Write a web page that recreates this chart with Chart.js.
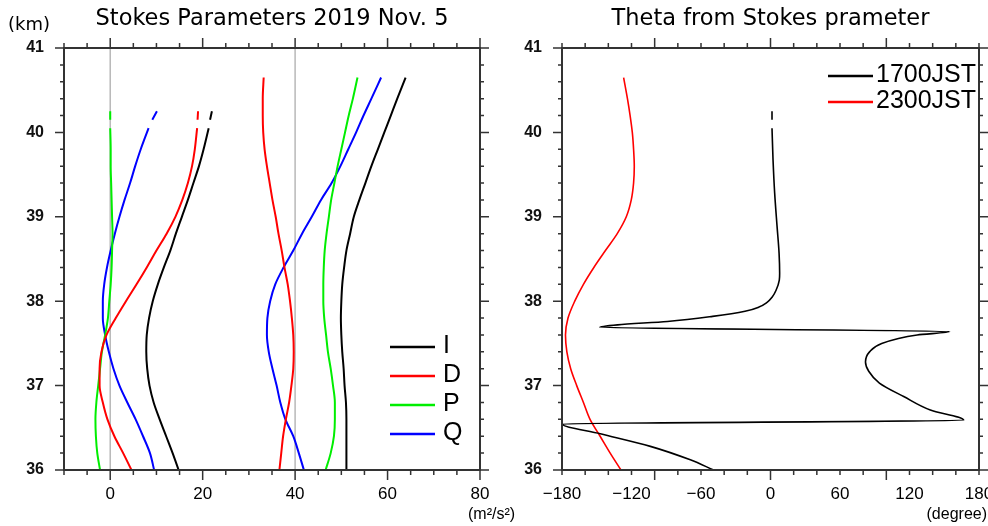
<!DOCTYPE html>
<html lang="en">
<head>
  <meta charset="UTF-8">
  <title>Stokes Parameters 2019 Nov. 5</title>
  <script src="https://cdn.jsdelivr.net/npm/chart.js"></script>
  <style>
    body {
      margin: 0;
      background: #fff;
    }

    .wrap {
      position: relative;
      width: 988px;
      height: 526px;
    }

    canvas {
      position: absolute;
      left: 0;
      top: 0;
    }
  </style>
</head>
<body>

  <div class="wrap">
    <canvas id="stokesChart" width="988" height="526"></canvas>
    <canvas id="thetaChart" width="988" height="526"></canvas>
  </div>

  <script>
    // altitude (km) of the 1700JST profiles, null = missing level
    const alt1700 = [40.25, 40.15, null, 40.05, 39.8, 39.6, 39.4, 39.2, 39.0, 38.8, 38.6, 38.4, 38.2, 38.0, 37.8, 37.6, 37.4, 37.2, 37.0, 36.8, 36.6, 36.4, 36.2, 36.0];
    const stokesI1700 = [22.0, 21.6, null, 21.3, 20.2, 19.2, 18.0, 16.8, 15.5, 14.2, 13.0, 11.6, 10.3, 9.2, 8.4, 7.9, 7.8, 8.0, 8.5, 9.4, 10.7, 12.1, 13.5, 14.8];
    const stokesD1700 = [19.0, 18.9, null, 18.8, 18.3, 17.7, 16.8, 15.6, 14.1, 12.2, 10.0, 7.9, 5.7, 3.4, 1.2, -0.8, -1.9, -2.3, -2.3, -1.6, -0.6, 0.9, 2.8, 4.6];
    const stokesP1700 = [0, 0, null, 0, 0.1, 0.1, 0.2, 0.3, 0.4, 0.5, 0.4, 0.3, 0.1, -0.2, -0.5, -1.1, -1.8, -2.2, -2.6, -3.0, -3.2, -3.1, -2.8, -2.2];
    const stokesQ1700 = [10.1, 9.1, null, 8.3, 6.6, 5.4, 4.3, 3.1, 2.0, 1.0, 0.1, -0.7, -1.3, -1.6, -1.6, -1.1, -0.3, 0.7, 2.0, 3.7, 5.5, 7.1, 8.6, 9.5];

    // altitude (km) of the 2300JST profiles
    const alt2300 = [40.65, 40.4, 40.2, 40.0, 39.8, 39.6, 39.4, 39.2, 39.0, 38.8, 38.6, 38.4, 38.2, 38.0, 37.8, 37.6, 37.4, 37.2, 37.0, 36.8, 36.6, 36.4, 36.2, 36.0];
    const stokesI2300 = [63.9, 62.1, 60.7, 59.3, 57.9, 56.5, 55.2, 53.9, 52.7, 51.9, 51.1, 50.6, 50.2, 50.0, 49.9, 50.0, 50.2, 50.5, 50.7, 51.0, 51.1, 51.1, 51.1, 51.1];
    const stokesD2300 = [33.2, 33.0, 33.0, 33.1, 33.4, 33.9, 34.5, 35.1, 35.8, 36.4, 37.1, 37.7, 38.4, 38.9, 39.3, 39.6, 39.7, 39.6, 39.2, 38.7, 38.0, 37.4, 37.0, 36.6];
    const stokesP2300 = [53.5, 52.5, 51.6, 50.8, 50.0, 49.2, 48.5, 47.8, 47.3, 46.8, 46.4, 46.2, 46.1, 46.1, 46.3, 46.7, 47.1, 47.7, 48.2, 48.6, 48.6, 48.4, 47.7, 46.6];
    const stokesQ2300 = [58.6, 56.5, 54.8, 53.2, 51.5, 49.8, 47.9, 45.6, 43.6, 41.5, 39.6, 37.5, 35.7, 34.6, 34.0, 33.9, 34.3, 35.1, 36.0, 36.8, 37.9, 39.6, 40.8, 41.9];

    // theta (degree)
    const altTheta1700 = [40.25, 40.15, null, 40.05, 39.67, 39.28, 38.88, 38.57, 38.33, 38.25, 38.13, 38.05, 37.98, 37.93, 37.88, 37.82, 37.76, 37.72, 37.69, 37.64, 37.60, 37.50, 37.40, 37.28, 37.17, 37.03, 36.87, 36.71, 36.59, 36.545, 36.43, 36.28, 36.12, 36.0];
    const theta1700 = [1.3, 1.3, null, 1.3, 2.2, 3.6, 5.7, 7.4, 7.9, 7.6, 4.8, 1.5, -3.5, -10, -22, -50, -89, -132, -147.5, 154.7, 126.6, 96, 85.5, 82, 84.8, 94, 115, 138, 166.8, -180, -146.9, -103.7, -69.2, -49.1];
    const theta2300 = [-126.8, -123.5, -121.2, -119.3, -118.2, -117.6, -118.2, -120.2, -124.5, -132.3, -142.5, -152.5, -161.5, -169.0, -174.8, -177.0, -175.8, -172.5, -167.3, -161.5, -155.8, -147.1, -138.4, -129.1];

    // axes
    const altTicks = [36, 37, 38, 39, 40, 41];
    const stokesTicks = [0, 20, 40, 60, 80];
    const thetaTicks = [-180, -120, -60, 0, 60, 120, 180];
    const stokesRefLines = [0, 40];

    function pts(vals, alts) {
      return alts.map((h, i) => ({ x: vals[i], y: h }));
    }

    function minus(v) {
      return v < 0 ? '\u2212' + Math.abs(v) : String(v);
    }

    // frame, tick marks, title, units and legend
    const axisFrame = {
      id: 'axisFrame',
      beforeDatasetsDraw(chart, args, o) {
        const { ctx, scales: { x, y } } = chart;
        ctx.save();
        ctx.strokeStyle = '#b8b8b8';
        ctx.lineWidth = 1.5;
        (o.refLines || []).forEach(v => {
          const px = x.getPixelForValue(v);
          ctx.beginPath();
          ctx.moveTo(px, y.getPixelForValue(y.max));
          ctx.lineTo(px, y.getPixelForValue(y.min));
          ctx.stroke();
        });
        ctx.restore();
      },
      afterDraw(chart, args, o) {
        const { ctx, scales: { x, y } } = chart;
        const L = x.getPixelForValue(x.min), R = x.getPixelForValue(x.max);
        const T = y.getPixelForValue(y.max), B = y.getPixelForValue(y.min);
        const isMajor = (v, step) => Math.abs(v / step - Math.round(v / step)) < 1e-6;
        ctx.save();
        ctx.strokeStyle = '#333';
        ctx.lineWidth = 1.5;
        ctx.beginPath();
        const nx = Math.round((x.max - x.min) / o.xMinor);
        for (let i = 0; i <= nx; i++) {
          const v = x.min + i * o.xMinor;
          const px = x.getPixelForValue(v);
          const len = isMajor(v, o.xMajor) ? 10 : 5;
          ctx.moveTo(px, B); ctx.lineTo(px, B + len);
          ctx.moveTo(px, T); ctx.lineTo(px, T - len);
        }
        const ny = Math.round((y.max - y.min) / 0.2);
        for (let i = 0; i <= ny; i++) {
          const v = y.min + i * 0.2;
          const py = y.getPixelForValue(v);
          const len = isMajor(v, 1) ? 9 : 4;
          ctx.moveTo(L, py); ctx.lineTo(L - len, py);
          ctx.moveTo(R, py); ctx.lineTo(R + len, py);
        }
        ctx.stroke();
        ctx.lineWidth = 2;
        ctx.strokeRect(L, T, R - L, B - T);

        ctx.fillStyle = '#000';
        ctx.textBaseline = 'middle';
        ctx.textAlign = 'center';
        ctx.font = '22.5px "DejaVu Sans"';
        ctx.fillText(o.title, (L + R) / 2, 19);

        if (o.yUnit) {
          ctx.font = '18px "DejaVu Sans"';
          ctx.fillText(o.yUnit, 29, 25);
        }
        ctx.font = '16px "Liberation Sans"';
        ctx.textAlign = o.xUnitAlign;
        ctx.fillText(o.xUnit, o.xUnitX, 515);

        // legend
        const lg = o.legend;
        ctx.font = lg.font;
        ctx.textAlign = 'left';
        chart.data.datasets.filter(d => d.inLegend).forEach((d, i) => {
          const ly = lg.y + i * lg.row;
          ctx.strokeStyle = d.borderColor;
          ctx.lineWidth = 2.5;
          ctx.beginPath();
          ctx.moveTo(lg.x0, ly);
          ctx.lineTo(lg.x1, ly);
          ctx.stroke();
          ctx.fillText(d.label, lg.tx, ly - 1);
        });
        ctx.restore();
      }
    };

    function lineSet(label, vals, alts, color, width, inLegend) {
      return {
        label: label,
        data: pts(vals, alts),
        borderColor: color,
        borderWidth: width,
        pointRadius: 0,
        cubicInterpolationMode: 'monotone',
        spanGaps: false,
        inLegend: inLegend
      };
    }

    function scales(xMin, xMax, xTicks, yWidth) {
      return {
        x: {
          type: 'linear',
          min: xMin,
          max: xMax,
          grid: { display: false, drawTicks: false },
          border: { display: false },
          afterBuildTicks: s => { s.ticks = xTicks.map(v => ({ value: v })); },
          afterFit: s => {
            s.height = 56;
            s.paddingLeft = 0;
            s.paddingRight = 0;
          },
          ticks: {
            padding: 14,
            color: '#000',
            font: { family: 'Liberation Sans', size: 17 },
            callback: v => minus(v)
          }
        },
        y: {
          type: 'linear',
          min: 36,
          max: 41,
          grid: { display: false, drawTicks: false },
          border: { display: false },
          afterBuildTicks: s => { s.ticks = altTicks.map(v => ({ value: v })); },
          afterFit: s => {
            s.width = yWidth;
            s.paddingTop = 0;
            s.paddingBottom = 0;
          },
          ticks: {
            padding: 20,
            color: '#111',
            font: { family: 'Liberation Sans', size: 16, weight: 'bold' }
          }
        }
      };
    }

    // Stokes parameters
    new Chart(document.getElementById('stokesChart'), {
      type: 'line',
      data: {
        datasets: [
          lineSet('I', stokesI1700, alt1700, '#000000', 2, true),
          lineSet('D', stokesD1700, alt1700, '#ff0000', 2, true),
          lineSet('P', stokesP1700, alt1700, '#00ee00', 2, true),
          lineSet('Q', stokesQ1700, alt1700, '#0000ff', 2, true),
          lineSet('I', stokesI2300, alt2300, '#000000', 2, false),
          lineSet('D', stokesD2300, alt2300, '#ff0000', 2, false),
          lineSet('P', stokesP2300, alt2300, '#00ee00', 2, false),
          lineSet('Q', stokesQ2300, alt2300, '#0000ff', 2, false)
        ]
      },
      options: {
        indexAxis: 'y',
        responsive: false,
        animation: false,
        devicePixelRatio: 1,
        layout: { autoPadding: false, padding: { top: 48, right: 508, bottom: 0, left: 0 } },
        scales: scales(-10, 80, stokesTicks, 64),
        plugins: {
          legend: { display: false },
          tooltip: { enabled: false },
          axisFrame: {
            title: 'Stokes Parameters 2019 Nov. 5',
            yUnit: '(km)',
            xUnit: '(m\u00b2/s\u00b2)',
            xUnitX: 468,
            xUnitAlign: 'left',
            xMinor: 5,
            xMajor: 20,
            refLines: stokesRefLines,
            legend: { x0: 390, x1: 435, tx: 443, y: 347, row: 29, font: '25px "Liberation Sans"' }
          }
        }
      },
      plugins: [axisFrame]
    });

    // Theta
    new Chart(document.getElementById('thetaChart'), {
      type: 'line',
      data: {
        datasets: [
          lineSet('1700JST', theta1700, altTheta1700, '#000000', 1.6, true),
          lineSet('2300JST', theta2300, alt2300, '#ff0000', 1.6, true)
        ]
      },
      options: {
        indexAxis: 'y',
        responsive: false,
        animation: false,
        devicePixelRatio: 1,
        layout: { autoPadding: false, padding: { top: 48, right: 9, bottom: 0, left: 0 } },
        scales: scales(-180, 180, thetaTicks, 562),
        plugins: {
          legend: { display: false },
          tooltip: { enabled: false },
          axisFrame: {
            title: 'Theta from Stokes prameter',
            xUnit: '(degree)',
            xUnitX: 987,
            xUnitAlign: 'right',
            xMinor: 20,
            xMajor: 100,
            legend: { x0: 828, x1: 873, tx: 876, y: 76, row: 26, font: '25px "Liberation Sans"' }
          }
        }
      },
      plugins: [axisFrame]
    });
  </script>

</body>
</html>
